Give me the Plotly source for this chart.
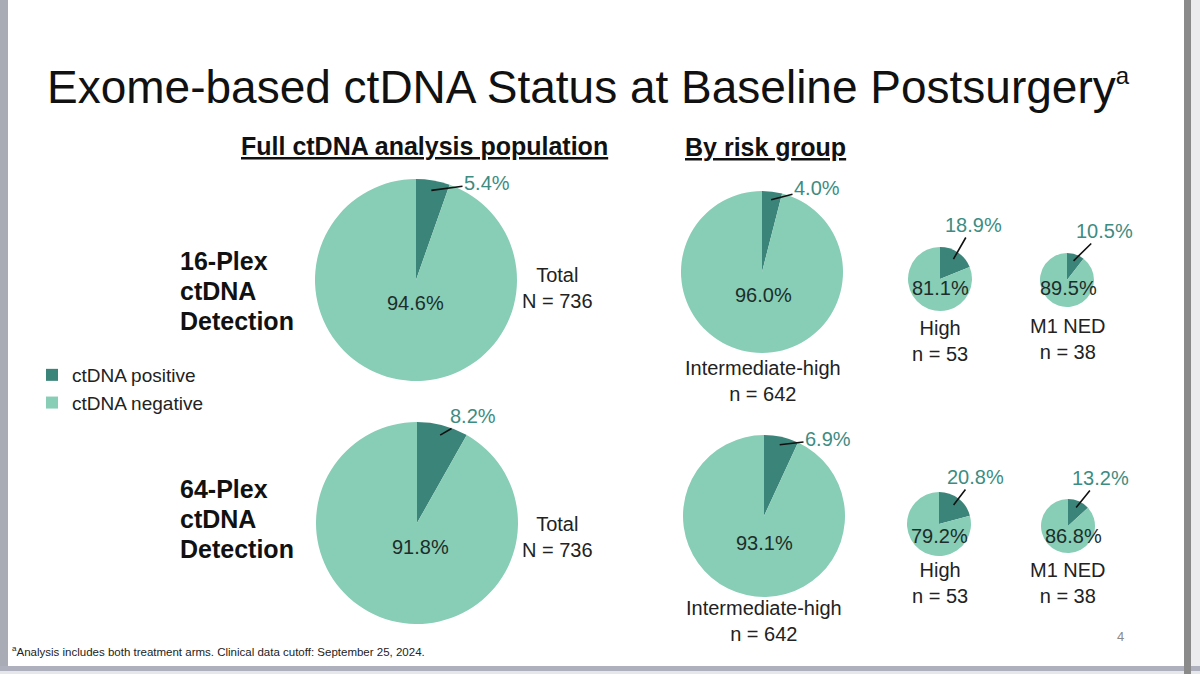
import math
import plotly.graph_objects as go

# data
status_labels = ["ctDNA positive", "ctDNA negative"]
assays = ["16-Plex", "64-Plex"]
groups = ["Total", "Intermediate-high", "High", "M1 NED"]
group_n = [736, 642, 53, 38]
pos_16 = [5.4, 4.0, 18.9, 10.5]
neg_16 = [94.6, 96.0, 81.1, 89.5]
pos_64 = [8.2, 6.9, 20.8, 13.2]
neg_64 = [91.8, 93.1, 79.2, 86.8]

W, H = 1200, 674
FONT = "Arial, Liberation Sans, sans-serif"
DARK = "#3b8479"
LIGHT = "#88cdb5"
TEAL = "#3d8c82"
INK = "#222222"

# slide geometry (pixels): pie centre/radius per row, per group
pie_geo = [
    [(416, 280, 101), (762, 272, 81), (940, 279, 32), (1067, 280, 27)],
    [(417, 523, 101), (764, 516, 81), (939, 524, 32), (1068, 526, 27)],
]
inner_pos = [
    [(415, 303), (763, 295), (940, 288), (1068, 288)],
    [(420, 547), (764, 543), (939, 536), (1073, 536)],
]
outer_pos = [
    [(487, 183), (817, 188), (973, 225), (1104, 231)],
    [(473, 416), (828, 439), (975, 477), (1100, 478)],
]
caption_pos = [
    [(557, 288), (763, 381), (940, 341), (1068, 339)],
    [(557, 537), (764, 621), (940, 583), (1068, 583)],
]
row_label_pos = [(178, 291), (178, 519)]


def px(x):
    return x / W


def py(y):
    return 1 - y / H


def note(x, y, text, size=20, color=INK, xanchor="center", **kw):
    # paper annotation placed by slide pixel coords
    d = dict(x=px(x), y=py(y), xref="paper", yref="paper", text=text,
             xanchor=xanchor, yanchor="middle", showarrow=False,
             font=dict(size=size, color=color, family=FONT))
    d.update(kw)
    return d


fig = go.Figure()
annotations = []

rows = [(pos_16, neg_16), (pos_64, neg_64)]
for r, (pos, neg) in enumerate(rows):
    for g in range(len(groups)):
        cx, cy, rad = pie_geo[r][g]
        fig.add_trace(go.Pie(
            labels=status_labels,
            values=[pos[g], neg[g]],
            sort=False,
            direction="clockwise",
            rotation=0,
            marker=dict(colors=[DARK, LIGHT], line=dict(width=0)),
            textinfo="none",
            hoverinfo="label+value",
            showlegend=(r == 0 and g == 0),
            domain=dict(x=[px(cx - rad), px(cx + rad)], y=[py(cy + rad), py(cy - rad)]),
        ))

        # negative share inside the pie
        ix, iy = inner_pos[r][g]
        annotations.append(note(ix, iy, f"{neg[g]:.1f}%", color="#1c2e2b"))

        # positive share with leader line into the dark slice
        theta = math.pi * pos[g] / 100
        frac = 0.9 if rad > 60 else 0.75
        hx = cx + frac * rad * math.sin(theta)
        hy = cy - frac * rad * math.cos(theta)
        ox, oy = outer_pos[r][g]
        annotations.append(dict(x=px(hx), y=py(hy), xref="paper", yref="paper",
                                text=f"{pos[g]:.1f}%", showarrow=True,
                                ax=ox - hx, ay=oy - hy, axref="pixel", ayref="pixel",
                                arrowhead=0, arrowwidth=1.6, arrowcolor="#111111",
                                standoff=0, startstandoff=0,
                                font=dict(size=20, color=TEAL, family=FONT)))

        # group caption
        qx, qy = caption_pos[r][g]
        if g == 0:
            cap = f"{groups[g]}<br>N = {group_n[g]}"
        else:
            cap = f"{groups[g]}<br>n = {group_n[g]}"
        annotations.append(note(qx, qy, cap))

# row labels, one line at a time to keep the tighter slide spacing
for r, assay in enumerate(assays):
    lx, ly = row_label_pos[r]
    for k, line in enumerate([assay, "ctDNA", "Detection"]):
        annotations.append(note(lx, ly + (k - 1) * 29.5, f"<b>{line}</b>", size=25,
                                color="#111111", xanchor="left"))

# headers, title, footnote, page number
annotations += [
    note(424, 146, "<b><u>Full ctDNA analysis population</u></b>", size=25, color="#111111"),
    note(765, 147, "<b><u>By risk group</u></b>", size=25, color="#111111"),
    note(45, 87, "Exome-based ctDNA Status at Baseline Postsurgery"
         "<sup><span style='font-size:24px'>a</span></sup>",
         size=46, color="#111111", xanchor="left"),
    note(10, 651, "<sup>a</sup>Analysis includes both treatment arms. Clinical data cutoff: September 25, 2024.",
         size=11.5, xanchor="left"),
    note(1120, 636, "4", size=13, color="#8a8a8a"),
]

# slide frame
shapes = [
    dict(type="rect", xref="paper", yref="paper", x0=0, x1=px(8), y0=0, y1=1,
         fillcolor="#a9abb5", line=dict(width=0)),
    dict(type="rect", xref="paper", yref="paper", x0=px(1191), x1=1, y0=0, y1=1,
         fillcolor="#ececee", line=dict(width=0)),
    dict(type="rect", xref="paper", yref="paper", x0=0, x1=1, y0=0, y1=py(666),
         fillcolor="#e6e7eb", line=dict(width=0)),
    dict(type="rect", xref="paper", yref="paper", x0=0, x1=1, y0=py(671), y1=py(666),
         fillcolor="#aeb1bd", line=dict(width=0)),
    dict(type="rect", xref="paper", yref="paper", x0=px(1184), x1=px(1191), y0=0, y1=1,
         fillcolor="#8a8a8a", line=dict(width=0)),
]

fig.update_layout(
    width=W, height=H,
    margin=dict(l=0, r=0, t=0, b=0),
    paper_bgcolor="white",
    plot_bgcolor="white",
    font=dict(family=FONT, color=INK),
    annotations=annotations,
    shapes=shapes,
    legend=dict(x=px(32), y=py(356), xanchor="left", yanchor="top",
                font=dict(size=19, color=INK, family=FONT),
                bgcolor="rgba(0,0,0,0)", tracegroupgap=2),
)

fig.write_html("out.html", config={"displayModeBar": False},
               post_script="document.body.style.margin='0';")
